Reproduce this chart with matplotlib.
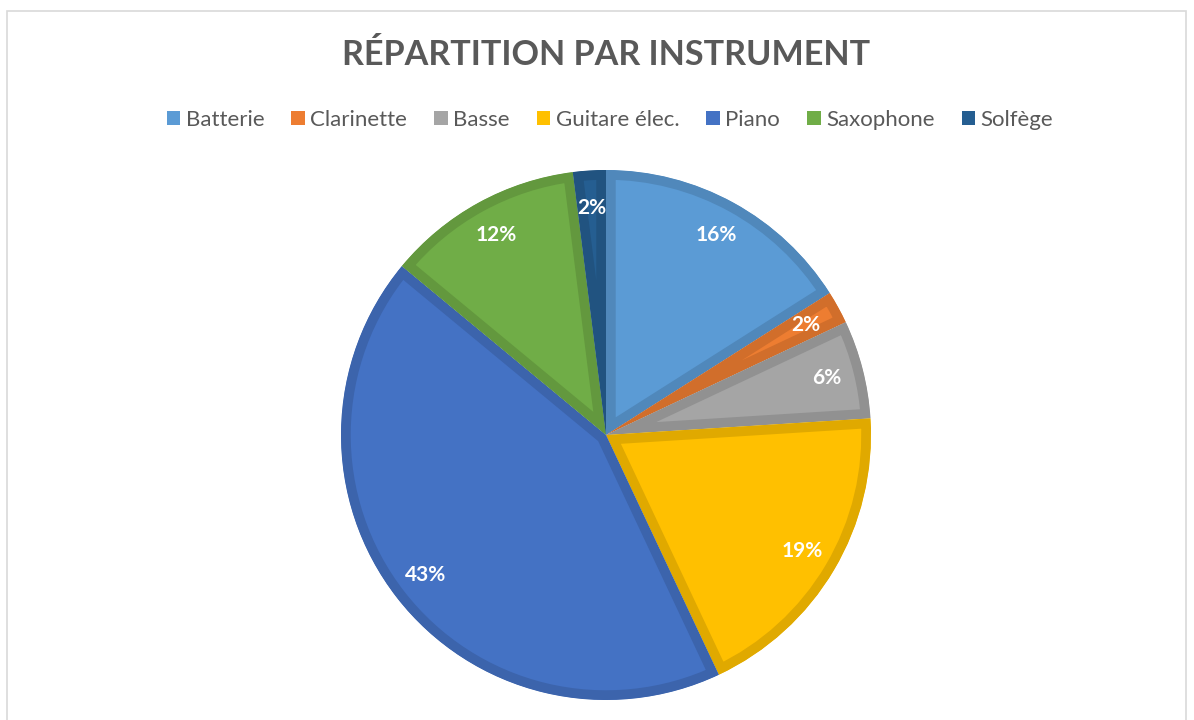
import matplotlib
matplotlib.use("Agg")
import matplotlib.pyplot as plt
from matplotlib.patches import Rectangle
import matplotlib.colors as mcolors

categories = ["Batterie", "Clarinette", "Basse", "Guitare élec.", "Piano", "Saxophone", "Solfège"]
values = [16, 2, 6, 19, 43, 12, 2]
colors = ["#5B9BD5", "#ED7D31", "#A5A5A5", "#FFC000", "#4472C4", "#70AD47", "#255E91"]
title = "RÉPARTITION PAR INSTRUMENT"

plt.rcParams['font.family'] = ['Lato', 'DejaVu Sans']

W, H = 1194, 720
fig = plt.figure(figsize=(W / 100, H / 100), dpi=100)
fig.patch.set_facecolor("white")

# chart frame
fig.add_artist(Rectangle((7 / W, -0.01), (1186 - 7) / W, (H - 11) / H + 0.01,
                         transform=fig.transFigure, fill=False, edgecolor="#D9D9D9", lw=1.2))

# pie axes: center (606, 435), radius 265 px
cx, cy, r = 606, 435, 265
ax = fig.add_axes([(cx - r) / W, (H - cy - r) / H, 2 * r / W, 2 * r / H])

def darker(c, f=0.88):
    rgb = mcolors.to_rgb(c)
    return tuple(v * f for v in rgb)

wedges, texts, autotexts = ax.pie(values, colors=colors, startangle=90, counterclock=False,
                                  radius=1.0, autopct="%1.0f%%", pctdistance=0.86,
                                  textprops=dict(color="white", fontsize=15, fontweight="bold"),
                                  wedgeprops=dict(linewidth=0))
ax.set_xlim(-1, 1)
ax.set_ylim(-1, 1)
ax.set_aspect("equal")
ax.axis("off")

for w, c in zip(wedges, colors):
    w.set_edgecolor(darker(c))
    w.set_linewidth(14)
    w.set_joinstyle("miter")
    w.set_clip_on(True)
    w.set_clip_path(w.get_path(), ax.transData)

fig.text(606 / W, 1 - 55 / H, title, ha="center", va="center", fontsize=24.6,
         fontweight="bold", color="#595959")

# legend
handles = [Rectangle((0, 0), 1, 1, facecolor=c) for c in colors]
leg = fig.legend(handles, categories, loc="center", bbox_to_anchor=(610 / W, 1 - 120 / H),
                 ncol=len(categories), frameon=False, fontsize=16, handlelength=0.6,
                 handleheight=0.6, handletextpad=0.25, columnspacing=1.22)
for t in leg.get_texts():
    t.set_color("#595959")

fig.savefig("out.png", dpi=100)
